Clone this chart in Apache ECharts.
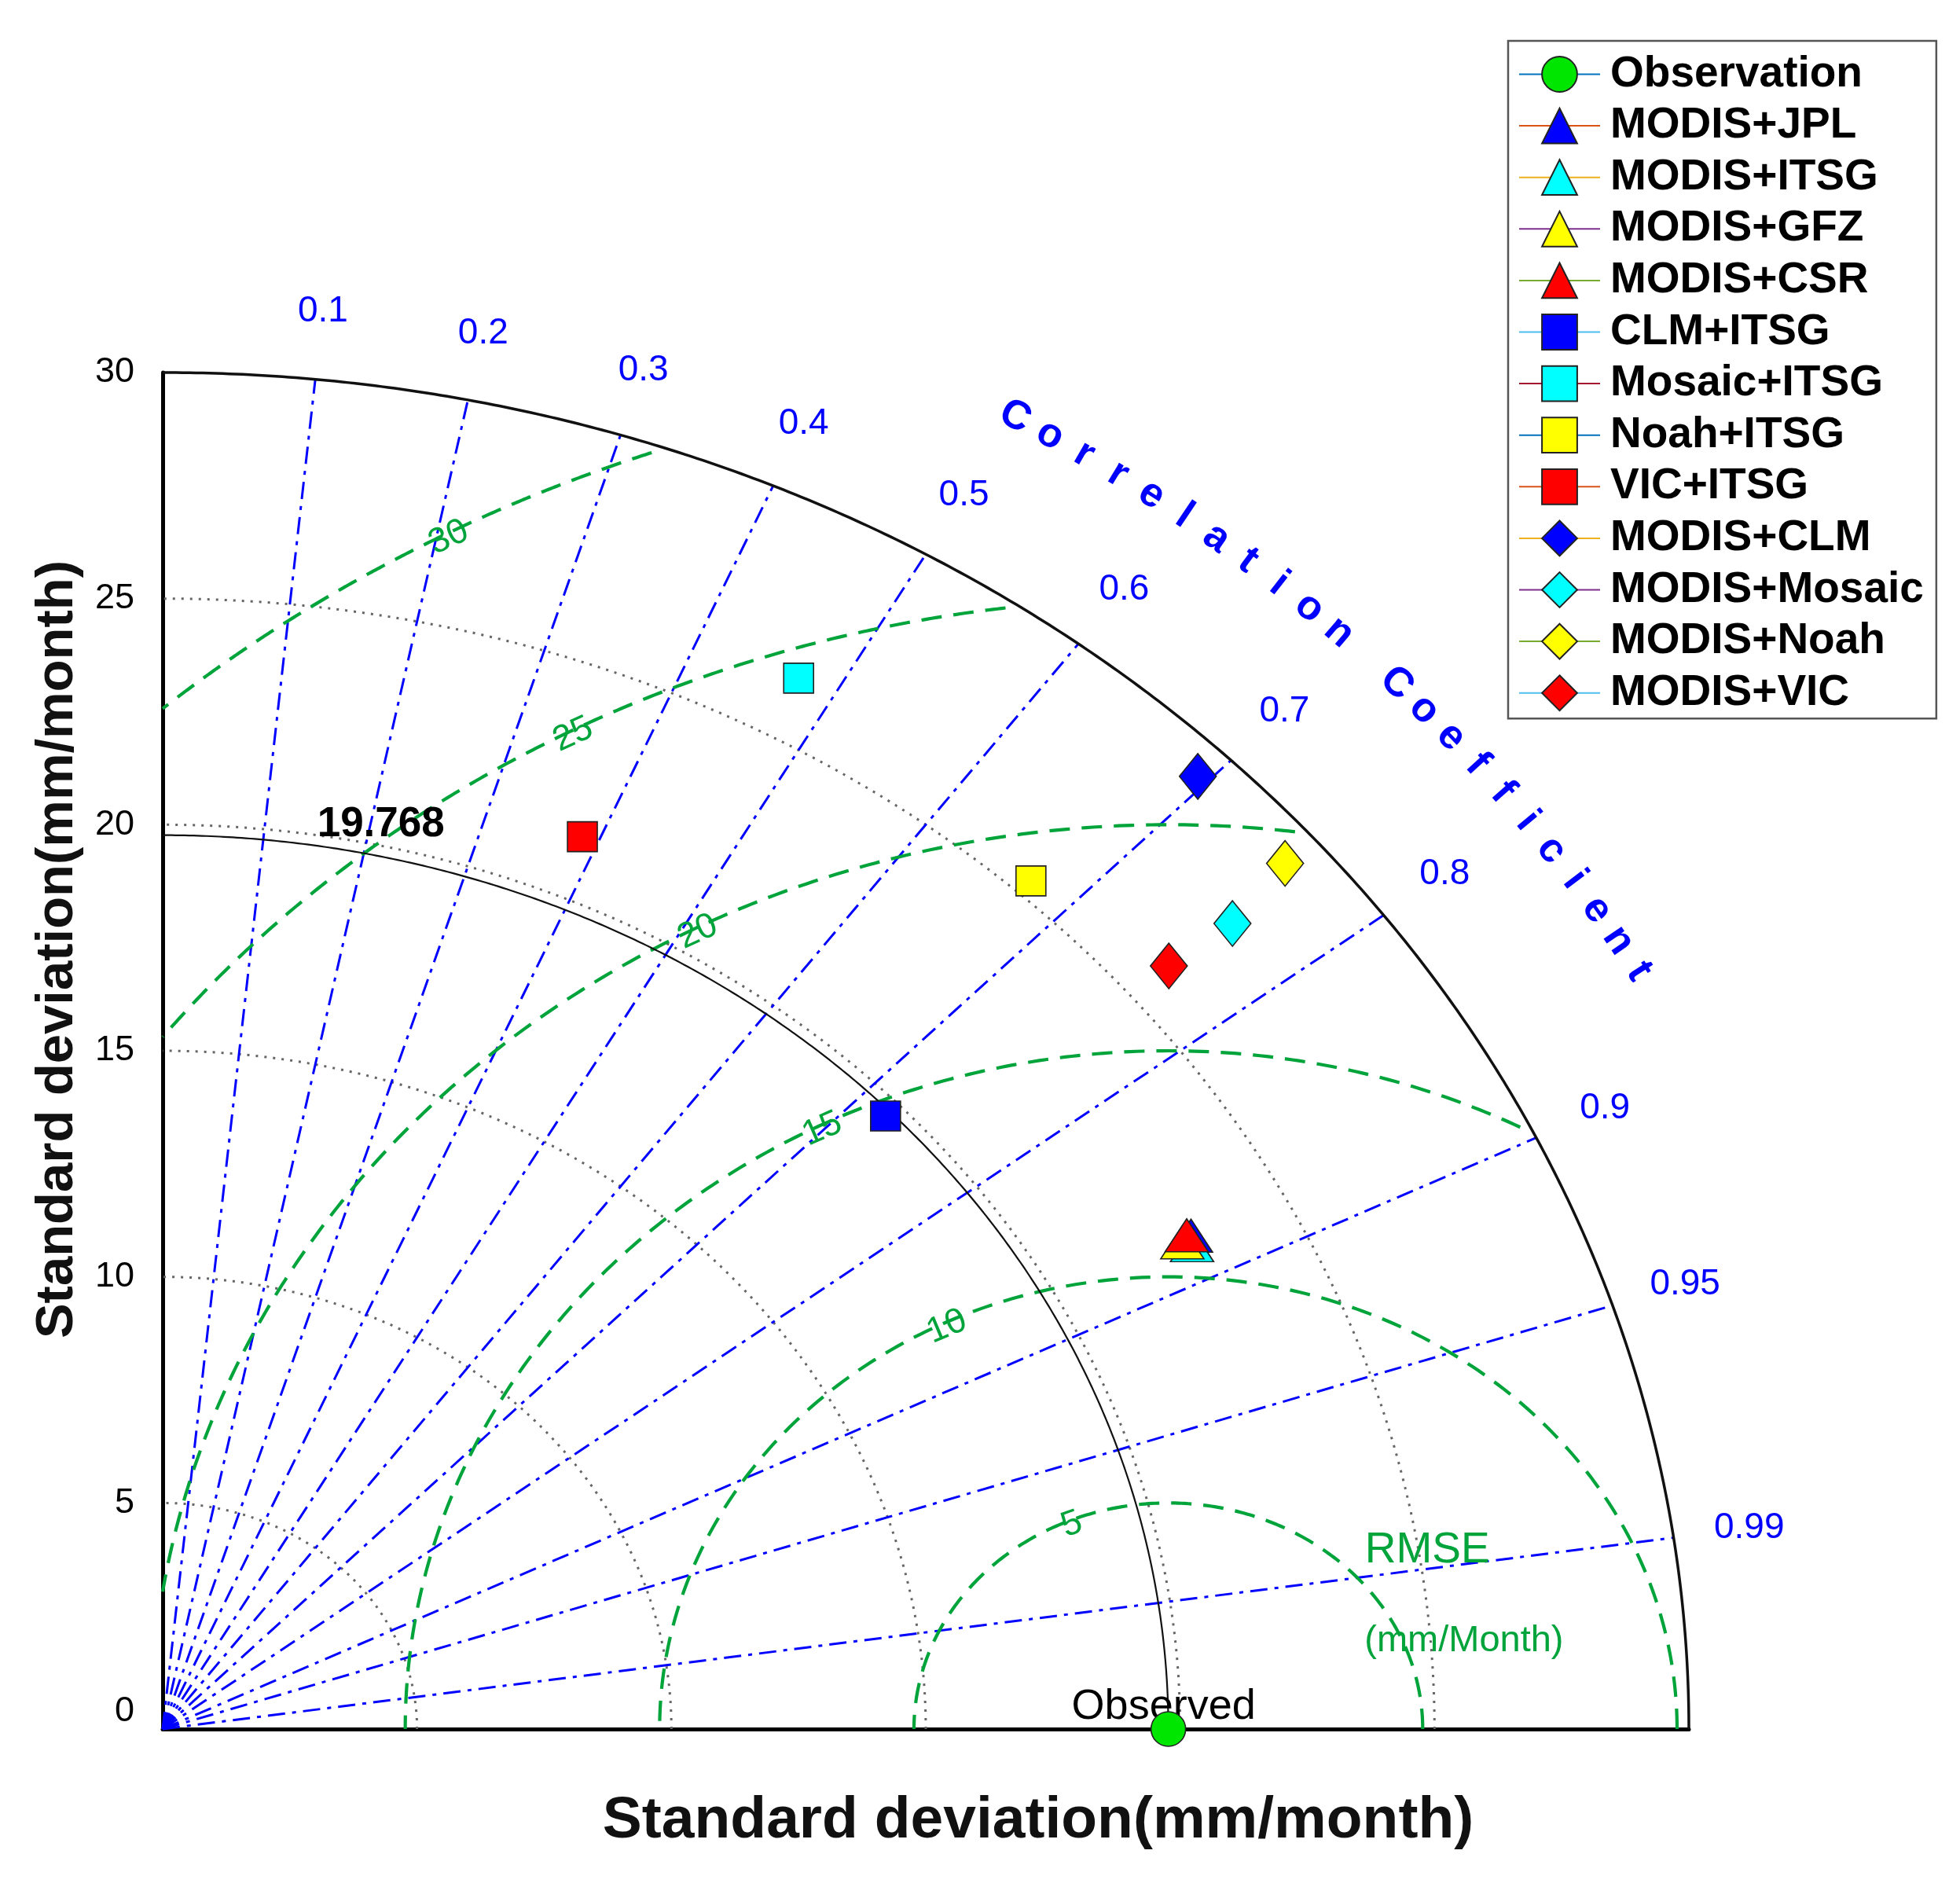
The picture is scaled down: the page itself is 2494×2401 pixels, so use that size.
<!DOCTYPE html>
<html>
<head>
<meta charset="utf-8">
<script src="https://cdn.jsdelivr.net/npm/echarts@6/dist/echarts.min.js"></script>
<style>
html,body{margin:0;padding:0;background:#fff;}
#chart{width:2494px;height:2401px;}
</style>
</head>
<body>
<div id="chart"></div>
<script>
// ---------------- DATA ----------------
const seriesNames = ['Observation','MODIS+JPL','MODIS+ITSG','MODIS+GFZ','MODIS+CSR','CLM+ITSG','Mosaic+ITSG','Noah+ITSG','VIC+ITSG','MODIS+CLM','MODIS+Mosaic','MODIS+Noah','MODIS+VIC'];
// standard deviation (mm/month) of each dataset
const stdValues = [19.768, 22.97, 22.89, 22.75, 22.90, 19.64, 26.39, 25.36, 21.39, 29.29, 27.56, 29.21, 26.00];
// correlation coefficient with the observation
const corrValues = [1.0, 0.880, 0.884, 0.881, 0.879, 0.7235, 0.4737, 0.673, 0.3857, 0.6947, 0.763, 0.7553, 0.7607];
const obsStd = 19.768;
const stdMax = 30;
const stdGridValues = [5, 10, 15, 20, 25];          // dotted std arcs
const corrTickValues = [0.1, 0.2, 0.3, 0.4, 0.5, 0.6, 0.7, 0.8, 0.9, 0.95, 0.99];
const rmsTickValues = [5, 10, 15, 20, 25, 30];     // RMSE contours (mm/Month)
const corrTitle = 'Correlation Coefficient';

// ---------------- STYLES ----------------
const FONT = '"Liberation Sans", Arial, Helvetica, sans-serif';
const BLUE = '#0000ff';
const GREEN = '#00a43a';
const markerShape = ['circle','triangle','triangle','triangle','triangle','rect','rect','rect','rect','diamond','diamond','diamond','diamond'];
const shapeSize = {circle:[44,44], triangle:[55,42], rect:[38,38], diamond:[47,58]};
const fillColors = ['#00e600','#0000ff','#00ffff','#ffff00','#ff0000','#0000ff','#00ffff','#ffff00','#ff0000','#0000ff','#00ffff','#ffff00','#ff0000'];
const lineColors = ['#0072BD','#D95319','#EDB120','#7E2F8E','#77AC30','#4DBEEE','#A2142F','#0072BD','#D95319','#EDB120','#7E2F8E','#77AC30','#4DBEEE'];

const chart = echarts.init(document.getElementById('chart'), null, {renderer:'canvas', width:2494, height:2401});

function rotAlong(p, q){ return Math.atan2(-(q[1]-p[1]), q[0]-p[0]); }

// dotted standard-deviation arcs
const stdArcSeries = {
  type:'custom', coordinateSystem:'cartesian2d', data: stdGridValues, clip:false, silent:true, z:1,
  renderItem(params, api){
    const r = api.value(0); const pts = [];
    for (let a = 0; a <= 90; a += 0.5){ const t = a*Math.PI/180; pts.push(api.coord([r*Math.cos(t), r*Math.sin(t)])); }
    return {type:'polyline', shape:{points:pts}, style:{stroke:'#666', lineWidth:3, lineDash:[3,8], fill:'none'}};
  }
};

// outer arc and observed-std arc
const refArcSeries = {
  type:'custom', coordinateSystem:'cartesian2d', data:[stdMax, obsStd], clip:false, silent:true, z:3,
  renderItem(params, api){
    const r = api.value(0); const pts = [];
    for (let a = 0; a <= 90; a += 0.25){ const t = a*Math.PI/180; pts.push(api.coord([r*Math.cos(t), r*Math.sin(t)])); }
    return {type:'polyline', shape:{points:pts}, style:{stroke:'#111', lineWidth: r === stdMax ? 3.5 : 2.2, fill:'none'}};
  }
};

// correlation rays + labels
const corrSeries = {
  type:'custom', coordinateSystem:'cartesian2d', data: corrTickValues, clip:false, silent:true, z:2,
  renderItem(params, api){
    const c = api.value(0); const s = Math.sqrt(1 - c*c);
    const p0 = api.coord([0,0]);
    const p1 = api.coord([stdMax*c, stdMax*s]);
    const pl = api.coord([stdMax*1.05*c, stdMax*1.05*s]);
    return {type:'group', children:[
      {type:'line', shape:{x1:p0[0], y1:p0[1], x2:p1[0], y2:p1[1]}, style:{stroke:BLUE, lineWidth:3, lineDash:[22,9,5,9]}},
      {type:'text', x:pl[0], y:pl[1], style:{text:String(c), fill:BLUE, fontSize:46, fontFamily:FONT, align:'center', verticalAlign:'middle'}}
    ]};
  }
};

// RMSE contours centred on the observation
const rmsSeries = {
  type:'custom', coordinateSystem:'cartesian2d', data: rmsTickValues, clip:false, silent:true, z:2,
  renderItem(params, api){
    const R = api.value(0); const o = obsStd; const lim = stdMax*0.994;
    const cmin = (lim*lim - o*o - R*R)/(2*o*R);
    const phiMin = cmin >= 1 ? 0 : Math.acos(Math.max(-1, cmin));
    const phiMax = R > o ? Math.acos(-o/R) : Math.PI;
    const pts = []; const n = 240;
    for (let k = 0; k <= n; k++){ const p = phiMin + (phiMax-phiMin)*k/n; pts.push(api.coord([o + R*Math.cos(p), R*Math.sin(p)])); }
    const phiL = (119.3 - 35/R)*Math.PI/180;
    const pc = api.coord([o + R*Math.cos(phiL), R*Math.sin(phiL)]);
    const pq = api.coord([o + R*Math.cos(phiL-0.02), R*Math.sin(phiL-0.02)]);
    return {type:'group', children:[
      {type:'polyline', shape:{points:pts}, style:{stroke:GREEN, lineWidth:4.2, lineDash:[26,15], fill:'none'}},
      {type:'text', x:pc[0], y:pc[1]+6, rotation: rotAlong(pc, pq), style:{text:String(R), fill:GREEN, fontSize:45, fontFamily:FONT, align:'center', verticalAlign:'middle'}}
    ]};
  }
};

// annotations: correlation title, RMSE caption, observed std
const annoSeries = {
  type:'custom', coordinateSystem:'cartesian2d', data:[0], clip:false, silent:true, z:4,
  renderItem(params, api){
    const kids = [];
    const chars = corrTitle.split(''); const rr = stdMax*1.117;
    chars.forEach((ch, i) => {
      if (ch === ' ') return;
      const th = (60 - 30*i/(chars.length-1))*Math.PI/180;
      const p = api.coord([rr*Math.cos(th), rr*Math.sin(th)]);
      const q = api.coord([rr*Math.cos(th-0.01), rr*Math.sin(th-0.01)]);
      kids.push({type:'text', x:p[0], y:p[1], rotation: rotAlong(p, q), style:{text:ch, fill:BLUE, fontSize:52, fontWeight:'bold', fontFamily:FONT, align:'center', verticalAlign:'middle'}});
    });
    const pR = api.coord([24.86, 3.95]);
    kids.push({type:'text', x:pR[0], y:pR[1], style:{text:'RMSE', fill:GREEN, fontSize:55, fontFamily:FONT, align:'center', verticalAlign:'middle'}});
    const pU = api.coord([25.58, 1.95]);
    kids.push({type:'text', x:pU[0], y:pU[1], style:{text:'(mm/Month)', fill:GREEN, fontSize:47, fontFamily:FONT, align:'center', verticalAlign:'middle'}});
    const pO = api.coord([obsStd, 0]);
    kids.push({type:'text', x:pO[0]-6, y:pO[1]-28, style:{text:'Observed', fill:'#000', fontSize:54, fontFamily:FONT, align:'center', verticalAlign:'middle'}});
    const pS = api.coord([4.29, 20.0]);
    kids.push({type:'text', x:pS[0], y:pS[1], style:{text:String(obsStd), fill:'#000', fontSize:53, fontWeight:'bold', fontFamily:FONT, align:'center', verticalAlign:'middle'}});
    return {type:'group', children:kids};
  }
};

const markerSeries = seriesNames.map((name, i) => {
  const c = corrValues[i], s = stdValues[i];
  return {
    type:'line', name, clip:false, silent:true, z: 10 + i,
    data: [[s*c, s*Math.sqrt(Math.max(0, 1 - c*c))]],
    symbol: markerShape[i], symbolSize: shapeSize[markerShape[i]], showSymbol:true,
    itemStyle:{color: fillColors[i], borderColor:'#222', borderWidth:1.6, opacity:1},
    lineStyle:{color: lineColors[i], width:2}
  };
});

const option = {
  backgroundColor:'#ffffff',
  animation:false,
  textStyle:{fontFamily:FONT},
  grid:{left:207, top:474, width:1942, height:1726, containLabel:false, outerBoundsMode:'none'},
  xAxis:{
    type:'value', min:0, max:stdMax, interval:5,
    axisLine:{show:true, onZero:false, lineStyle:{color:'#000', width:5}},
    axisTick:{show:false}, axisLabel:{show:false}, splitLine:{show:false},
    name:'Standard deviation(mm/month)', nameLocation:'middle', nameGap:80, nameMoveOverlap:false,
    nameTextStyle:{fontSize:75, fontWeight:'bold', color:'#111', fontFamily:FONT, padding:[0,0,0,286]}
  },
  yAxis:{
    type:'value', min:0, max:stdMax, interval:5,
    axisLine:{show:true, onZero:false, lineStyle:{color:'#000', width:5}},
    axisTick:{show:false}, splitLine:{show:false},
    axisLabel:{fontSize:45, color:'#000', margin:36, fontFamily:FONT, verticalAlignMinLabel:'bottom'},
    name:'Standard deviation(mm/month)', nameLocation:'middle', nameGap:100, nameMoveOverlap:false,
    nameTextStyle:{fontSize:67, fontWeight:'bold', color:'#111', fontFamily:FONT, padding:[0,0,0,258]}
  },
  legend:{
    orient:'vertical', left:1919, top:52, data: seriesNames, selectedMode:false,
    itemWidth:103, itemHeight:56, itemGap:10.6, padding:[15,16,5,13],
    borderColor:'#555', borderWidth:2.5, backgroundColor:'#fff',
    textStyle:{fontSize:55, fontWeight:'bold', color:'#000', fontFamily:FONT, lineHeight:54, padding:[0,0,0,8]}
  },
  series:[stdArcSeries, corrSeries, rmsSeries, refArcSeries, annoSeries].concat(markerSeries)
};
chart.setOption(option);
</script>
</body>
</html>
